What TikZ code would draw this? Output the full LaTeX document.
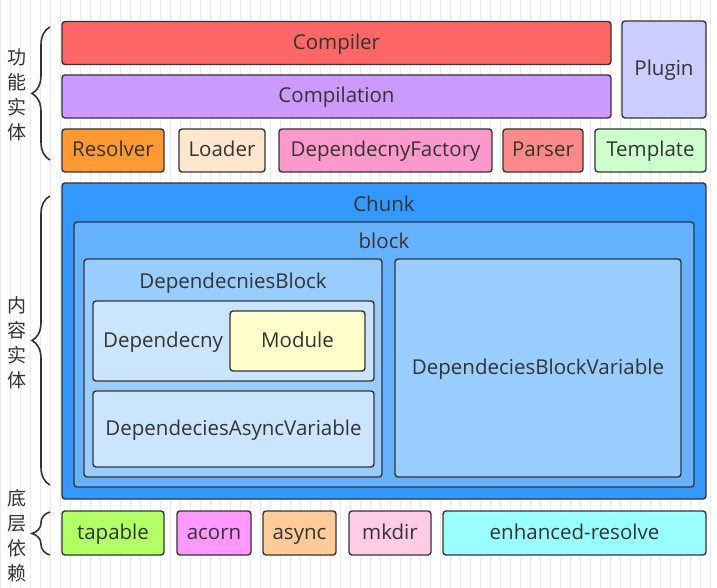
\documentclass[tikz,border=0pt]{standalone}
\usepackage{fontspec}
\setmainfont{Open Sans}
\newfontfamily\cjk{Noto Sans CJK SC}
\usetikzlibrary{decorations.pathreplacing}

\definecolor{ink}{HTML}{333333}
\definecolor{gridc}{HTML}{EBEBEB}

\tikzset{
  ent/.style={draw=ink,line width=1.4pt,rounded corners=3pt,inner sep=0pt,
    text=ink,font=\fontsize{20.5}{20.5}\selectfont,text height=13pt,text depth=0pt},
  lbl/.style={text=ink,font=\fontsize{20.5}{20.5}\selectfont,inner sep=0pt,text height=13pt,text depth=0pt},
  side/.style={text=ink,font=\cjk\fontsize{19}{25}\selectfont,align=center,inner sep=0pt},
  curly/.style={draw=ink,line width=1.6pt,decorate,decoration={brace,amplitude=18pt,aspect=0.5}}
}

\begin{document}
\begin{tikzpicture}[x=1pt,y=-1pt]
  \useasboundingbox (0,0) rectangle (717,588);
  \fill[white] (0,0) rectangle (717,588);
  \draw[gridc,step=10] (0,0) grid (717,588);

  % functional entities
  \begin{scope}[every node/.style={ent}]
    \node[fill={rgb,255:red,255;green,102;blue,102},minimum width=549,minimum height=43] (compiler) at (336.5,43) {Compiler};
    \node[fill={rgb,255:red,204;green,153;blue,255},minimum width=549,minimum height=43] (compilation) at (336.5,96.5) {Compilation};
    \node[fill={rgb,255:red,204;green,204;blue,255},minimum width=84,minimum height=97] (plugin) at (664,69.5) {Plugin};
    \node[fill={rgb,255:red,255;green,153;blue,51},minimum width=102,minimum height=43] (resolver) at (113,150.5) {Resolver};
    \node[fill={rgb,255:red,255;green,230;blue,204},minimum width=86,minimum height=43] (loader) at (222,150.5) {Loader};
    \node[fill={rgb,255:red,255;green,153;blue,204},minimum width=213,minimum height=43] (factory) at (385.5,150.5) {DependecnyFactory};
    \node[fill={rgb,255:red,255;green,136;blue,136},minimum width=80,minimum height=43] (parser) at (543,150.5) {Parser};
    \node[fill={rgb,255:red,204;green,255;blue,204},minimum width=111,minimum height=43] (template) at (650.5,150.5) {Template};
  \end{scope}

  % content entities
  \begin{scope}[every node/.style={ent}]
    \node[fill={rgb,255:red,51;green,153;blue,255},minimum width=644,minimum height=316] (chunk) at (384,341) {};
    \node[fill={rgb,255:red,102;green,178;blue,255},minimum width=620,minimum height=265] (block) at (384,354.5) {};
    \node[fill={rgb,255:red,153;green,204;blue,255},minimum width=298,minimum height=218] (depblock) at (233,368) {};
    \node[fill={rgb,255:red,204;green,229;blue,255},minimum width=281,minimum height=80] (dep) at (233.5,341) {};
    \node[fill={rgb,255:red,255;green,255;blue,204},minimum width=135,minimum height=60] (module) at (297.5,341) {Module};
    \node[fill={rgb,255:red,204;green,229;blue,255},minimum width=281,minimum height=76] (asyncvar) at (233.5,429) {DependeciesAsyncVariable};
    \node[fill={rgb,255:red,153;green,204;blue,255},minimum width=286,minimum height=218] (blockvar) at (538,368) {DependeciesBlockVariable};
  \end{scope}
  \node[lbl] (chunklbl) at (384,205) {Chunk};
  \node[lbl] (blocklbl) at (384,242) {block};
  \node[lbl] (depblocklbl) at (233,282) {DependecniesBlock};
  \node[lbl] (deplbl) at (163,341) {Dependecny};

  % base dependencies
  \begin{scope}[every node/.style={ent,minimum height=44}]
    \node[fill={rgb,255:red,179;green,255;blue,102},minimum width=102] (tapable) at (113,533) {tapable};
    \node[fill={rgb,255:red,255;green,153;blue,255},minimum width=74] (acorn) at (214,533) {acorn};
    \node[fill={rgb,255:red,255;green,204;blue,153},minimum width=73] (async) at (299.5,533) {async};
    \node[fill={rgb,255:red,255;green,204;blue,230},minimum width=82] (mkdir) at (390,533) {mkdir};
    \node[fill={rgb,255:red,153;green,255;blue,255},minimum width=263] (enhanced) at (574.5,533) {enhanced-resolve};
  \end{scope}

  % side labels and braces
  \node[side] (funcside) at (17,95) {功\\能\\实\\体};
  \node[side] (contside) at (17,343) {内\\容\\实\\体};
  \node[side] (baseside) at (17,536) {底\\层\\依\\赖};
  \coordinate (f1) at (50,27);  \coordinate (f2) at (50,160);
  \coordinate (c1) at (50,196); \coordinate (c2) at (50,485);
  \coordinate (b1) at (50,512); \coordinate (b2) at (50,555);
  \draw[curly] (f2) -- (f1);
  \draw[curly] (c2) -- (c1);
  \draw[curly] (b2) -- (b1);
\end{tikzpicture}
\end{document}
